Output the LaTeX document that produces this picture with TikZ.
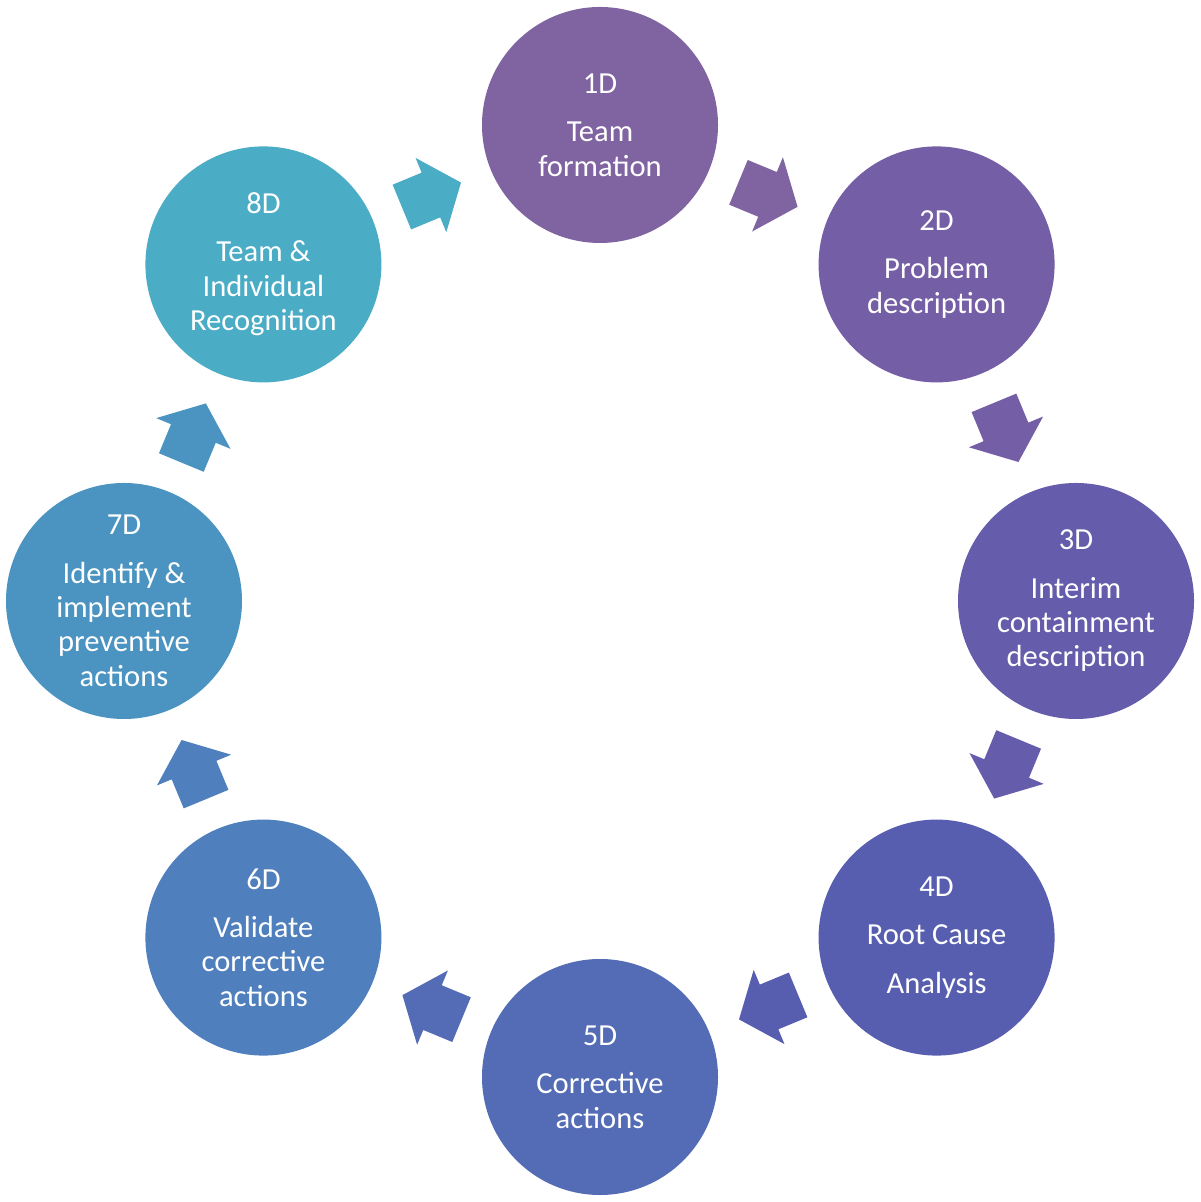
\documentclass[tikz,border=0pt]{standalone}
\usepackage{fontspec}
\setmainfont{Carlito}
\usepackage{tikz}
\usetikzlibrary{shapes,arrows,positioning,calc}

\definecolor{c1}{HTML}{8064A2}
\definecolor{c2}{HTML}{745EA5}
\definecolor{c3}{HTML}{655CAB}
\definecolor{c4}{HTML}{585EAF}
\definecolor{c5}{HTML}{536CB5}
\definecolor{c6}{HTML}{4F7FBD}
\definecolor{c7}{HTML}{4B94C1}
\definecolor{c8}{HTML}{4BACC6}

\tikzset{
    stage/.style={circle, fill=#1, minimum size=2.36cm, inner sep=0pt, align=center,
        text=white, font=\fontsize{8.7pt}{9.8pt}\selectfont},
    arrowblock/.style={single arrow, fill=#1, draw=none, inner xsep=0pt, inner ysep=0.235cm,
        minimum height=0.64cm,
        single arrow head extend=0.16cm, single arrow tip angle=102,
        pos=0.24, anchor=tail, sloped, allow upside down}
}

\begin{document}
\begin{tikzpicture}
        \useasboundingbox (-6,-6.01) rectangle (6,6.01);

        % Stages
        \node[stage=c1] (d1) at (90:4.76) {1D\\[3.9pt]Team\\formation};
        \node[stage=c2] (d2) at (45:4.76) {2D\\[3.9pt]Problem\\description};
        \node[stage=c3] (d3) at (0:4.76) {3D\\[3.9pt]Interim\\containment\\description};
        \node[stage=c4] (d4) at (-45:4.76) {4D\\[3.9pt]Root Cause\\[3.9pt]Analysis};
        \node[stage=c5] (d5) at (-90:4.76) {5D\\[3.9pt]Corrective\\actions};
        \node[stage=c6] (d6) at (-135:4.76) {6D\\[3.9pt]Validate\\corrective\\actions};
        \node[stage=c7] (d7) at (180:4.76) {7D\\[3.9pt]Identify \&\\implement\\preventive\\actions};
        \node[stage=c8] (d8) at (135:4.76) {8D\\[3.9pt]Team \&\\Individual\\Recognition};

        % Arrows between stages
        \path (d1) -- (d2) node[arrowblock=c1] (a12) {};
        \path (d2) -- (d3) node[arrowblock=c2] (a23) {};
        \path (d3) -- (d4) node[arrowblock=c3] (a34) {};
        \path (d4) -- (d5) node[arrowblock=c4] (a45) {};
        \path (d5) -- (d6) node[arrowblock=c5] (a56) {};
        \path (d6) -- (d7) node[arrowblock=c6] (a67) {};
        \path (d7) -- (d8) node[arrowblock=c7] (a78) {};
        \path (d8) -- (d1) node[arrowblock=c8] (a81) {};
    \end{tikzpicture}
\end{document}
